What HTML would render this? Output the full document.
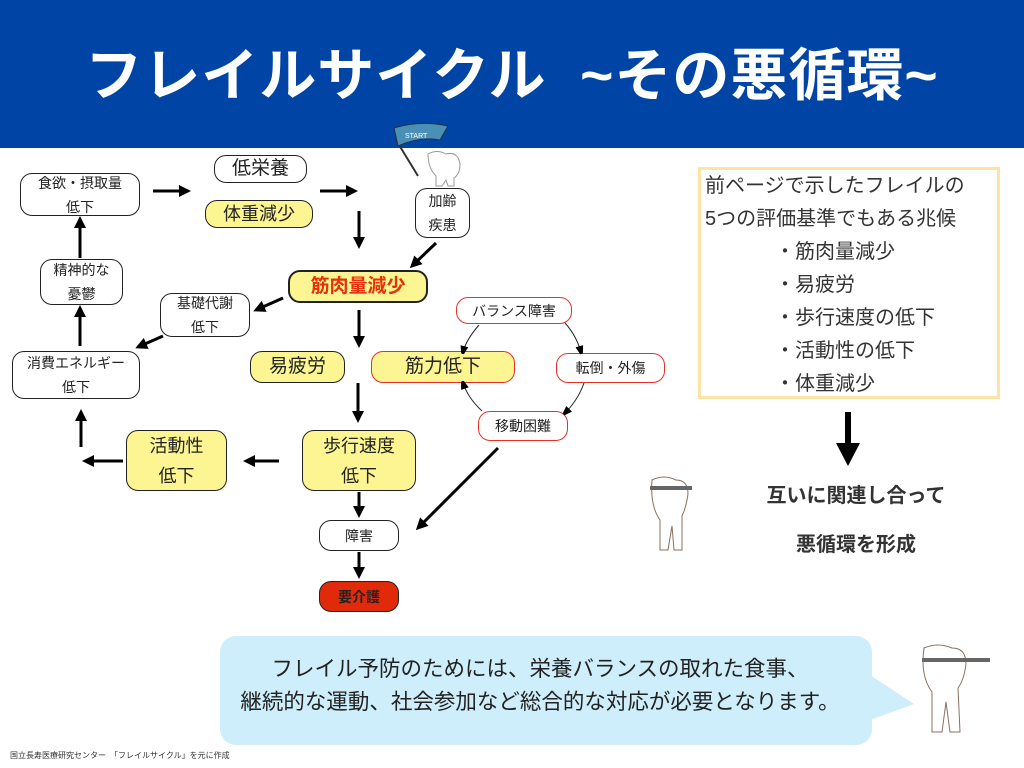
<!DOCTYPE html>
<html><head><meta charset="utf-8"><style>
*{margin:0;padding:0;box-sizing:border-box}
body{width:1024px;height:768px;position:relative;background:#fff;overflow:hidden;font-family:"Liberation Sans","Noto Sans CJK JP",sans-serif;color:#222}
.hdr{position:absolute;left:0;top:0;width:1024px;height:148px;background:#0045a5}
.ttl{position:absolute;left:0;top:36px;width:1024px;text-align:center;color:#fff;font-size:57px;font-weight:bold;line-height:80px;letter-spacing:1px}
.b{position:absolute;border:1.5px solid #222;border-radius:12px;background:#fff;display:flex;align-items:center;justify-content:center;text-align:center;font-size:14px;line-height:24px}
.y{background:#fcf591}
.r{border-color:#e8302a}
.t{position:absolute;white-space:nowrap}
</style></head><body>
<div class="hdr"></div>
<div class="ttl">フレイルサイクル&nbsp;&nbsp;~その悪循環~</div>

<div class="b" style="left:214px;top:155px;width:93px;height:28px;font-size:19px">低栄養</div>
<div class="b y" style="left:205px;top:200px;width:108px;height:28px;font-size:18px">体重減少</div>
<div class="b" style="left:20px;top:173px;width:120px;height:43px">食欲・摂取量<br>低下</div>
<div class="b" style="left:40px;top:259px;width:83px;height:46px">精神的な<br>憂鬱</div>
<div class="b" style="left:12px;top:351px;width:128px;height:48px">消費エネルギー<br>低下</div>
<div class="b" style="left:160px;top:293px;width:90px;height:44px">基礎代謝<br>低下</div>
<div class="b" style="left:415px;top:188px;width:55px;height:50px">加齢<br>疾患</div>
<div class="b y" style="left:288px;top:270px;width:140px;height:33px;border-width:2.5px;font-size:19px;font-weight:bold;color:#e8300a">筋肉量減少</div>
<div class="b y" style="left:250px;top:351px;width:95px;height:32px;font-size:19px">易疲労</div>
<div class="b y r" style="left:371px;top:351px;width:144px;height:32px;font-size:19px">筋力低下</div>
<div class="b r" style="left:456px;top:297px;width:116px;height:27px">バランス障害</div>
<div class="b r" style="left:556px;top:353px;width:109px;height:30px">転倒・外傷</div>
<div class="b r" style="left:478px;top:411px;width:90px;height:30px">移動困難</div>
<div class="b y" style="left:126px;top:430px;width:101px;height:61px;font-size:18px;line-height:30px">活動性<br>低下</div>
<div class="b y" style="left:302px;top:430px;width:114px;height:61px;font-size:18px;line-height:30px">歩行速度<br>低下</div>
<div class="b" style="left:319px;top:520px;width:80px;height:31px">障害</div>
<div class="b" style="left:319px;top:581px;width:80px;height:31px;background:#e02a0a;font-weight:bold">要介護</div>

<svg style="position:absolute;left:0;top:0" width="1024" height="768">
<defs><marker id="a" markerWidth="4" markerHeight="4" refX="3" refY="2" orient="auto"><path d="M0,0L4,2L0,4z" fill="#000"/></marker>
<marker id="s" markerWidth="8" markerHeight="8" refX="6" refY="4" orient="auto" markerUnits="userSpaceOnUse"><path d="M0,0L12,4L0,8z" fill="#000"/></marker></defs>
<g stroke="#000" stroke-width="3" marker-end="url(#a)" fill="none">
<line x1="153" y1="191" x2="188" y2="191"/>
<line x1="320" y1="191" x2="355" y2="191"/>
<line x1="359" y1="211" x2="359" y2="246"/>
<line x1="436" y1="243" x2="412" y2="266"/>
<line x1="283" y1="298" x2="256" y2="310"/>
<line x1="163" y1="336" x2="138" y2="347"/>
<line x1="81" y1="447" x2="81" y2="412"/>
<line x1="80" y1="346" x2="80" y2="308"/>
<line x1="80" y1="258" x2="80" y2="219"/>
<line x1="359" y1="310" x2="359" y2="345"/>
<line x1="358" y1="383" x2="358" y2="420"/>
<line x1="279" y1="461" x2="246" y2="461"/>
<line x1="123" y1="461" x2="85" y2="461"/>
<line x1="359" y1="492" x2="359" y2="515"/>
<line x1="359" y1="552" x2="359" y2="576"/>
<line x1="498" y1="448" x2="418" y2="528"/>
</g>
<g stroke="#222" stroke-width="1" fill="none" marker-end="url(#s)">
<path d="M479,325 Q466,340 463,352"/>
<path d="M565,323 Q576,335 581,352"/>
<path d="M584,383 Q578,400 565,413"/>
<path d="M482,411 Q468,398 463,383"/>
</g>
<line x1="848" y1="412" x2="848" y2="445" stroke="#000" stroke-width="6"/>
<path d="M836,443L860,443L848,466z" fill="#000"/>
<!-- flag -->
<line x1="396" y1="140" x2="418" y2="176" stroke="#333" stroke-width="2"/>
<path d="M394,128 Q420,120 448,126 L440,140 Q420,136 398,146z" fill="#4a8fb5" stroke="#234" stroke-width="1"/>
<text x="405" y="138" font-size="7" fill="#fff" font-family="Liberation Sans">START</text>
<!-- tooth chars -->
<path d="M428,154 q9,-5 18,0 q12,-3 14,10 q0,10 -6,14 l0,8 l-6,0 l-2,-6 l-4,6 l-6,0 l0,-10 q-8,-8 -8,-22z" fill="#fff" stroke="#999"/>
<path d="M652,480 q12,-6 24,0 q12,0 12,14 q-2,14 -6,22 l0,34 l-8,0 l-2,-24 l-4,24 l-8,0 l0,-30 q-10,-14 -8,-40z" fill="#fff" stroke="#8a7060"/>
<line x1="650" y1="488" x2="692" y2="488" stroke="#666" stroke-width="4"/>
<path d="M924,648 q14,-6 28,0 q14,0 14,16 q-2,16 -8,24 l2,44 l-10,0 l-4,-30 l-4,30 l-10,0 l0,-40 q-12,-16 -8,-44z" fill="#fff" stroke="#8a7060"/>
<line x1="922" y1="660" x2="990" y2="660" stroke="#666" stroke-width="4"/>
<!-- bubble -->
<rect x="220" y="636" width="652" height="109" rx="16" fill="#cdeefa"/>
<path d="M870,675 L914,704 L870,720z" fill="#cdeefa"/>
</svg>

<div style="position:absolute;left:698px;top:167px;width:302px;height:232px;border:3px solid #fde3a6"></div>
<div class="t" style="left:705px;top:170px;font-size:20px;line-height:33px;color:#333">前ページで示したフレイルの<br>5つの評価基準でもある兆候</div>
<div class="t" style="left:775px;top:236px;font-size:20px;line-height:33px;color:#333">・筋肉量減少<br>・易疲労<br>・歩行速度の低下<br>・活動性の低下<br>・体重減少</div>
<div class="t" style="left:756px;top:479px;width:200px;text-align:center;font-size:20px;font-weight:bold;color:#333">互いに関連し合って</div>
<div class="t" style="left:756px;top:528px;width:200px;text-align:center;font-size:20px;font-weight:bold;color:#333">悪循環を形成</div>
<div class="t" style="left:220px;top:653px;width:640px;text-align:center;font-size:21.5px;line-height:33px;color:#222">フレイル予防のためには、栄養バランスの取れた食事、<br>継続的な運動、社会参加など総合的な対応が必要となります。</div>
<div class="t" style="left:10px;top:750px;font-size:8px;color:#333">国立長寿医療研究センター　「フレイルサイクル」を元に作成</div>
</body></html>
